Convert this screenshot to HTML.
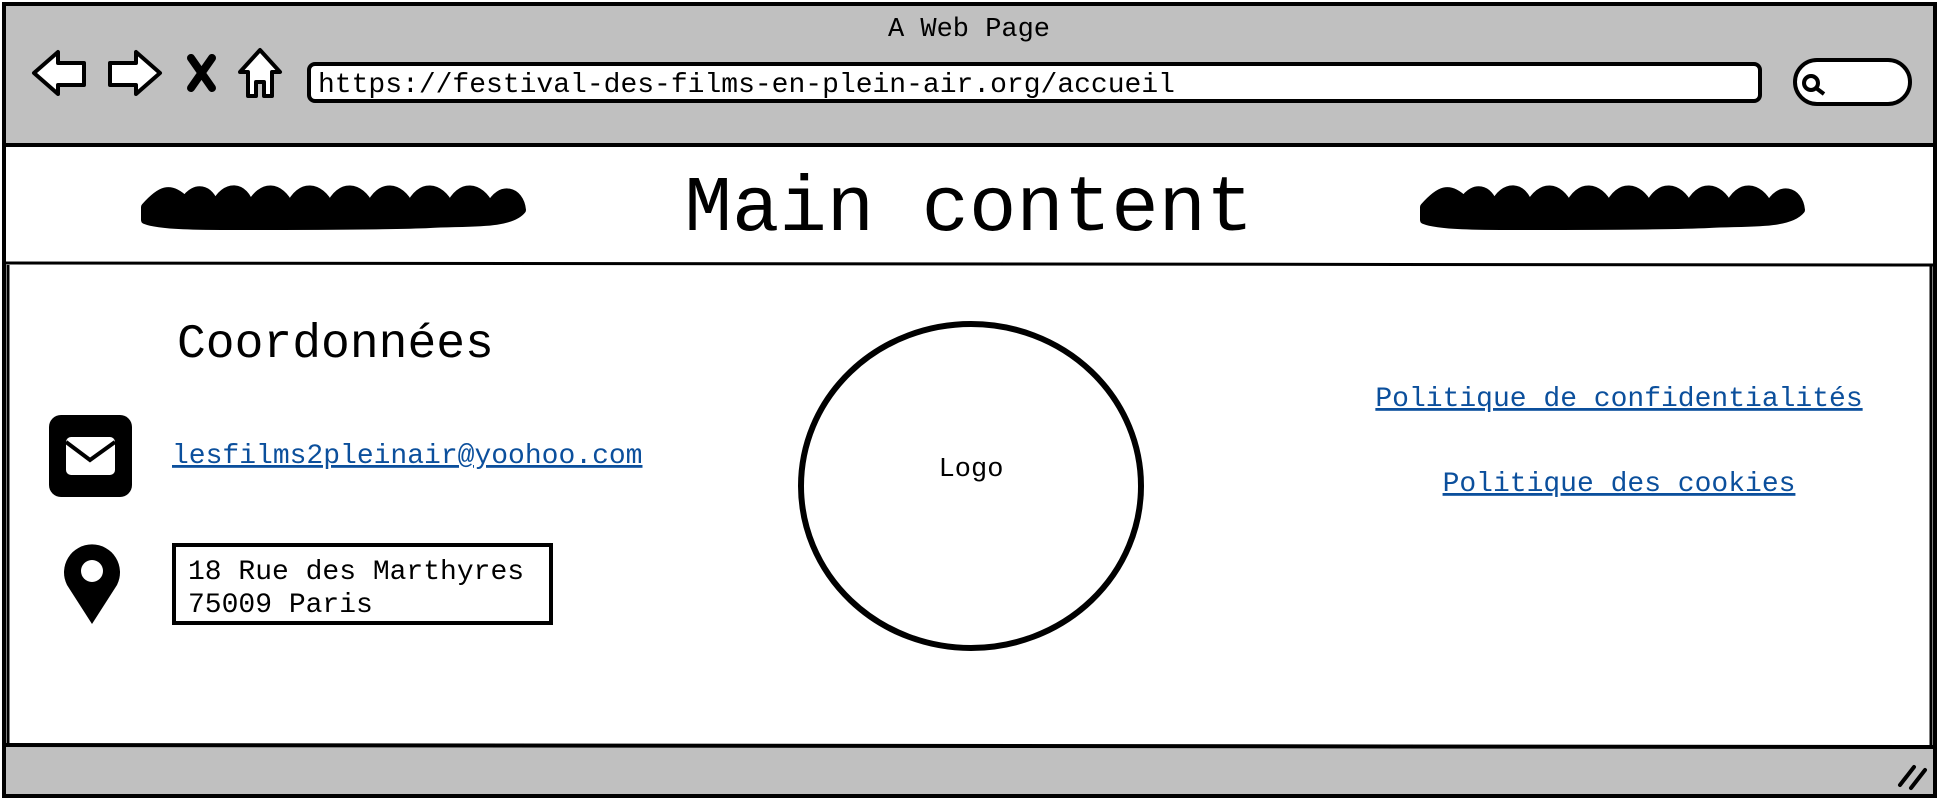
<!DOCTYPE html>
<html><head><meta charset="utf-8"><style>
html,body{margin:0;padding:0;background:#fff;}
svg{display:block;}
text{font-family:"Liberation Mono","DejaVu Sans Mono",monospace;}
</style></head><body>
<svg width="1938" height="800" viewBox="0 0 1938 800" xmlns="http://www.w3.org/2000/svg">
<rect x="4" y="4" width="1931" height="792" fill="#c0c0c0" stroke="#000" stroke-width="4"/>
<rect x="6" y="145" width="1927" height="600" fill="#fff"/>
<line x1="4" y1="145" x2="1935" y2="145" stroke="#000" stroke-width="4"/>
<line x1="4" y1="263" x2="1935" y2="265" stroke="#000" stroke-width="3"/>
<line x1="4" y1="745" x2="1935" y2="747" stroke="#000" stroke-width="4"/>
<line x1="8" y1="265" x2="8" y2="745" stroke="#000" stroke-width="3"/>
<line x1="1931" y1="265" x2="1931" y2="745" stroke="#000" stroke-width="3"/>
<text x="969" y="36" font-size="27" text-anchor="middle">A Web Page</text>
<path d="M34 73 L58 52 L58 63 L84 63 L84 85 L58 85 L58 94 Z" fill="#fff" stroke="#000" stroke-width="4" stroke-linejoin="round"/>
<path d="M160 73 L136 52 L136 63 L110 63 L110 85 L136 85 L136 94 Z" fill="#fff" stroke="#000" stroke-width="4" stroke-linejoin="round"/>
<path d="M191 58 L212 88 M212 58 L191 88" stroke="#000" stroke-width="8" stroke-linecap="round"/>
<path d="M240 72 L260 50 L280 72 L272 72 L272 96 L264 96 L264 82 L256 82 L256 96 L248 96 L248 72 Z" fill="#fff" stroke="#000" stroke-width="4" stroke-linejoin="round"/>
<rect x="309" y="64" width="1451" height="37" rx="6" fill="#fff" stroke="#000" stroke-width="4"/>
<text x="318" y="92" font-size="28">https://festival-des-films-en-plein-air.org/accueil</text>
<rect x="1795" y="60" width="115" height="44" rx="22" fill="#fff" stroke="#000" stroke-width="4"/>
<circle cx="1811" cy="83" r="7" fill="none" stroke="#000" stroke-width="4"/>
<line x1="1816" y1="88" x2="1824" y2="94" stroke="#000" stroke-width="4"/>
<path d="M145 207 C160 190,170 185,185 200 C195 185,210 188,215 205 C225 183,245 185,250 206 C262 183,280 185,290 206 C300 183,320 185,330 206 C340 183,360 185,370 206 C380 183,400 185,410 206 C420 183,440 185,450 206 C460 183,480 185,490 206 C500 185,520 190,522 210 C510 225,470 222,430 224 C390 226,300 226,240 226 C200 226,160 226,145 220 Z" fill="#000" stroke="#000" stroke-width="8" stroke-linejoin="round"/>
<path d="M1424 207 C1439 190,1449 185,1464 200 C1474 185,1489 188,1494 205 C1504 183,1524 185,1529 206 C1541 183,1559 185,1569 206 C1579 183,1599 185,1609 206 C1619 183,1639 185,1649 206 C1659 183,1679 185,1689 206 C1699 183,1719 185,1729 206 C1739 183,1759 185,1769 206 C1779 185,1799 190,1801 210 C1789 225,1749 222,1709 224 C1669 226,1579 226,1519 226 C1479 226,1439 226,1424 220 Z" fill="#000" stroke="#000" stroke-width="8" stroke-linejoin="round"/>
<text x="969" y="230" font-size="79" text-anchor="middle">Main content</text>
<text x="177" y="357" font-size="48">Coordonnées</text>
<rect x="49" y="415" width="83" height="82" rx="12" fill="#000"/>
<rect x="66" y="437" width="49" height="38" rx="5" fill="#fff"/>
<path d="M66 442 L90 460 L115 442" fill="none" stroke="#000" stroke-width="4"/>
<text x="172" y="463" font-size="28" fill="#0b4f9c" text-decoration="underline">lesfilms2pleinair@yoohoo.com</text>
<path d="M92 624 L67 585 A28 28 0 1 1 117 585 Z" fill="#000"/>
<circle cx="92" cy="571" r="11" fill="#fff"/>
<rect x="174" y="545" width="377" height="78" fill="#fff" stroke="#000" stroke-width="4"/>
<text x="188" y="579" font-size="28">18 Rue des Marthyres</text>
<text x="188" y="612" font-size="28">75009 Paris</text>
<ellipse cx="971" cy="486" rx="170" ry="162" fill="#fff" stroke="#000" stroke-width="6"/>
<text x="971" y="476" font-size="27" text-anchor="middle" font-family="Liberation Sans, sans-serif">Logo</text>
<text x="1619" y="406" font-size="28" text-anchor="middle" fill="#0b4f9c" text-decoration="underline">Politique de confidentialités</text>
<text x="1619" y="491" font-size="28" text-anchor="middle" fill="#0b4f9c" text-decoration="underline">Politique des cookies</text>
<path d="M1900 785 L1914 767 M1911 788 L1925 770" stroke="#000" stroke-width="4" stroke-linecap="round"/>
</svg>
</body></html>
